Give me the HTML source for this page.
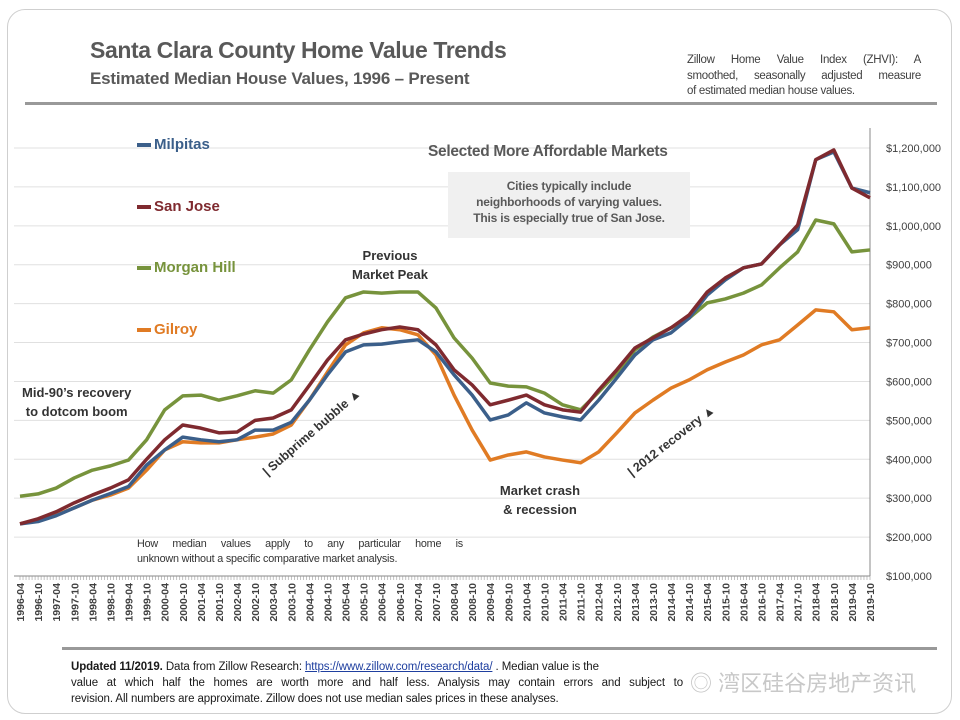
<!DOCTYPE html>
<html><head><meta charset="utf-8"><style>
html,body{margin:0;padding:0;background:#fff;}
body{width:960px;height:720px;overflow:hidden;position:relative;font-family:"Liberation Sans",sans-serif;}
.t{position:absolute;color:#595959;}
.j{display:block;text-align:justify;text-align-last:justify;white-space:nowrap;}
.jl{display:block;white-space:nowrap;}
</style></head><body>
<div style="position:absolute;left:7px;top:9px;width:943px;height:703px;border:1px solid #cfcfcf;border-radius:18px;"></div>
<div class="t" style="left:90px;top:37px;font:bold 23px 'Liberation Sans',sans-serif;letter-spacing:-0.4px;">Santa Clara County Home Value Trends</div>
<div class="t" style="left:90px;top:69px;font:bold 17px 'Liberation Sans',sans-serif;letter-spacing:-0.2px;">Estimated Median House Values, 1996 – Present</div>
<div class="t" style="left:687px;top:53px;width:234px;font:11.5px 'Liberation Sans',sans-serif;line-height:15.5px;color:#404040;letter-spacing:-0.3px;"><span class="j">Zillow Home Value Index (ZHVI): A</span><span class="j">smoothed, seasonally adjusted measure</span><span class="jl">of estimated median house values.</span></div>
<div style="position:absolute;left:25px;top:102px;width:912px;height:3px;background:#999;"></div>
<svg id="chart" width="960" height="720" style="position:absolute;left:0;top:0;"></svg>
<div style="position:absolute;left:62px;top:647px;width:875px;height:3px;background:#999;"></div>
<div class="t" style="left:71px;top:659px;width:612px;font:11.5px 'Liberation Sans',sans-serif;line-height:16px;color:#1a1a1a;letter-spacing:-0.1px;"><span class="jl"><b>Updated 11/2019.</b> Data from Zillow Research: <span style="color:#1f3f9f;text-decoration:underline">https://www.zillow.com/research/data/</span> . Median value is the</span><span class="j">value at which half the homes are worth more and half less. Analysis may contain errors and subject to</span><span class="jl">revision. All numbers are approximate. Zillow does not use median sales prices in these analyses.</span></div>
<div class="t" style="left:690px;top:666px;font:22px 'Liberation Sans','Noto Sans CJK SC',sans-serif;color:#c8c8c8;">◎ 湾区硅谷房地产资讯</div>
<script>
const categories=[];for(let y=1996;y<=2019;y++){categories.push(y+'-04');categories.push(y+'-10');}
const yTicks=[100000,200000,300000,400000,500000,600000,700000,800000,900000,1000000,1100000,1200000];
const milpitas=[234,240,255,275,295,312,330,385,424,457,450,445,450,475,475,495,552,617,676,694,696,702,707,676,617,565,501,514,545,519,509,501,552,609,668,707,725,763,822,861,892,902,951,990,1170,1190,1097,1085];
const sanJose=[234,247,265,288,308,326,347,400,450,488,480,468,470,500,506,527,590,655,707,722,733,740,733,694,630,591,540,552,565,540,527,521,578,630,686,712,738,771,830,866,892,902,951,1002,1170,1195,1097,1072];
const morganHill=[305,311,326,352,372,383,398,450,527,563,565,552,563,576,570,604,681,753,815,830,827,830,830,789,712,660,596,588,586,570,540,527,573,622,681,714,738,763,802,812,827,848,892,933,1015,1005,933,938];
const gilroy=[234,244,257,275,295,308,326,372,424,445,442,442,450,457,465,488,552,624,694,725,738,733,720,668,565,475,398,411,419,406,398,391,419,468,519,552,583,604,630,650,668,694,707,745,784,779,733,738];
const svg=document.getElementById('chart');const NS='http://www.w3.org/2000/svg';
const X0=20,X1=870,Y0=576,YT=148;
const xs=i=>X0+(X1-X0)*i/(categories.length-1);
const ys=v=>Y0-(v-100000)/1100000*(Y0-YT);
function mk(t,a){const e=document.createElementNS(NS,t);for(const k in a)e.setAttribute(k,a[k]);svg.appendChild(e);return e;}
yTicks.forEach(v=>{const g=mk('line',{x1:14,x2:X1,y1:ys(v),y2:ys(v),stroke:'#e0e0e0','stroke-width':1});


const t=mk('text',{x:886,y:ys(v)+4,'font-size':11,'font-family':'Liberation Sans, sans-serif',fill:'#404040'});t.textContent='$'+v.toLocaleString('en-US');

});
const ax=mk('line',{x1:X1,x2:X1,y1:128,y2:Y0,stroke:'#888','stroke-width':1});


const xa=mk('line',{x1:14,x2:X1,y1:Y0,y2:Y0,stroke:'#888','stroke-width':1});


for(let i=0;i<=(categories.length-1)*6;i++){const x=X0+(X1-X0)*i/((categories.length-1)*6);mk('line',{x1:x,x2:x,y1:Y0,y2:Y0+4,stroke:'#999','stroke-width':0.6});}
categories.forEach((c,i)=>{const t=mk('text',{x:0,y:0,transform:`translate(${xs(i)+4},${Y0+7}) rotate(-90)`,'text-anchor':'end','font-size':10.5,'font-weight':'bold','font-family':'Liberation Sans, sans-serif',fill:'#404040'});t.textContent=c;

});
const series=[['morgan-hill',morganHill,'#77933c'],['gilroy',gilroy,'#e07b24'],['milpitas',milpitas,'#3b5f8a'],['san-jose',sanJose,'#7f2a2f']];
series.forEach(([n,d,c])=>{const p=mk('polyline',{points:d.map((v,i)=>xs(i)+','+ys(v*1000)).join(' '),fill:'none',stroke:c,'stroke-width':3.5,'stroke-linejoin':'round'});

});
</script>
<div>
<div class="t" style="left:137px;top:136px;font:bold 15px 'Liberation Sans',sans-serif;color:#3b5f8a;"><span style="display:inline-block;width:14px;height:4px;background:#3b5f8a;vertical-align:middle;margin-right:3px"></span>Milpitas</div>
<div class="t" style="left:137px;top:198px;font:bold 15px 'Liberation Sans',sans-serif;color:#7f2a2f;"><span style="display:inline-block;width:14px;height:4px;background:#7f2a2f;vertical-align:middle;margin-right:3px"></span>San Jose</div>
<div class="t" style="left:137px;top:259px;font:bold 15px 'Liberation Sans',sans-serif;color:#77933c;"><span style="display:inline-block;width:14px;height:4px;background:#77933c;vertical-align:middle;margin-right:3px"></span>Morgan Hill</div>
<div class="t" style="left:137px;top:321px;font:bold 15px 'Liberation Sans',sans-serif;color:#e07b24;"><span style="display:inline-block;width:14px;height:4px;background:#e07b24;vertical-align:middle;margin-right:3px"></span>Gilroy</div>
</div>
<div class="t" style="left:428px;top:143px;font:bold 15.5px 'Liberation Sans',sans-serif;letter-spacing:-0.3px;">Selected More Affordable Markets</div>
<div class="t" style="left:448px;top:172px;width:242px;height:66px;background:#f0f0f0;font:bold 12px 'Liberation Sans',sans-serif;line-height:16px;text-align:center;padding-top:6px;box-sizing:border-box;letter-spacing:-0.2px;">Cities typically include<br>neighborhoods of varying values.<br>This is especially true of San Jose.</div>
<div class="t" style="left:340px;top:246px;width:100px;font:bold 13px 'Liberation Sans',sans-serif;line-height:19px;text-align:center;color:#333;">Previous<br>Market Peak</div>
<div class="t" style="left:22px;top:383px;font:bold 13px 'Liberation Sans',sans-serif;line-height:19px;text-align:center;color:#333;">Mid-90’s recovery<br>to dotcom boom</div>
<div class="t" style="left:486px;top:481px;width:108px;font:bold 13px 'Liberation Sans',sans-serif;line-height:19px;text-align:center;color:#333;">Market crash<br>&amp; recession</div>
<div class="t" style="left:260px;top:468px;font:bold 12.5px 'Liberation Sans',sans-serif;color:#333;transform:rotate(-41deg);transform-origin:left top;white-space:nowrap;">| Subprime bubble ▲</div>
<div class="t" style="left:625px;top:468px;font:bold 12.5px 'Liberation Sans',sans-serif;color:#333;transform:rotate(-38deg);transform-origin:left top;white-space:nowrap;">| 2012 recovery ▲</div>
<div class="t" style="left:137px;top:537px;width:326px;font:10.8px 'Liberation Sans',sans-serif;line-height:15px;color:#333;letter-spacing:-0.2px;"><span class="j">How median values apply to any particular home is</span><span class="jl">unknown without a specific comparative market analysis.</span></div>
</body></html>
